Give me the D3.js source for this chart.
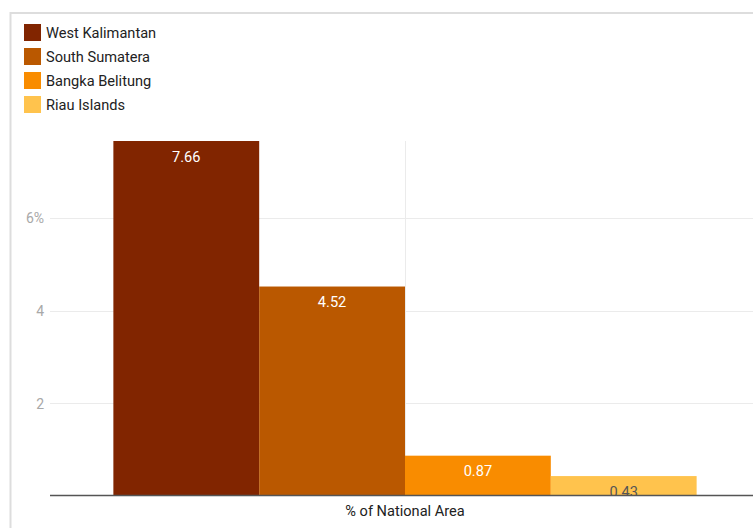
<!DOCTYPE html>
<html>
<head>
<meta charset="utf-8">
<script src="https://cdn.jsdelivr.net/npm/d3@7"></script>
<style>
  html, body { margin: 0; padding: 0; background: #fff; }
  svg { display: block; font-family: Roboto, "Noto Sans", sans-serif; }
</style>
</head>
<body>
<svg id="chart" width="753" height="528"></svg>
<script>
const categories = ["% of National Area"];
const seriesNames = ["West Kalimantan", "South Sumatera", "Bangka Belitung", "Riau Islands"];
const seriesValues = [7.66, 4.52, 0.87, 0.43];
const seriesColors = ["#812500", "#BA5800", "#F98C00", "#FFC34D"];
const labelColors = ["#ffffff", "#ffffff", "#ffffff", "#555555"];
const yTicks = [2, 4, 6];
const yTickLabels = ["2", "4", "6%"];

const svg = d3.select("#chart");
const W = 753, H = 528;

// frame
svg.append("line").attr("x1", 10.5).attr("x2", 10.5).attr("y1", 12).attr("y2", H)
  .attr("stroke", "#dddddd").attr("stroke-width", 2);
svg.append("line").attr("x1", 10).attr("x2", W).attr("y1", 13).attr("y2", 13)
  .attr("stroke", "#dddddd").attr("stroke-width", 2);

// legend
const legend = svg.append("g");
seriesNames.forEach((name, i) => {
  const g = legend.append("g").attr("transform", `translate(24,${24 + i * 24})`);
  g.append("rect").attr("width", 17).attr("height", 17).attr("fill", seriesColors[i]);
  g.append("text").attr("x", 22).attr("y", 14).attr("font-size", 14.6)
    .attr("fill", "#222").text(name);
});

const plotLeft = 50, plotRight = 760, plotTop = 141, plotBottom = 496;
const y = d3.scaleLinear().domain([0, 7.66]).range([plotBottom, plotTop]);
const x0 = d3.scaleBand().domain(categories).range([plotLeft, plotRight]).padding(0.098);
const x1 = d3.scaleBand().domain(seriesNames).range([0, x0.bandwidth()]).padding(0);

// gridlines
svg.append("g").selectAll("line").data(yTicks).join("line")
  .attr("x1", plotLeft).attr("x2", W).attr("y1", d => Math.round(y(d)) + 0.5).attr("y2", d => Math.round(y(d)) + 0.5)
  .attr("stroke", "#ebebeb");
// vertical grid at category center
categories.forEach(c => {
  const cx = Math.round(x0(c) + x0.bandwidth() / 2) + 0.5;
  svg.append("line").attr("x1", cx).attr("x2", cx).attr("y1", plotTop).attr("y2", plotBottom)
    .attr("stroke", "#ebebeb");
});

// y tick labels
svg.append("g").selectAll("text").data(yTicks).join("text")
  .attr("x", 44).attr("y", d => y(d) + 5.5).attr("text-anchor", "end")
  .attr("font-size", 14).attr("fill", "#a8a8a8")
  .text((d, i) => yTickLabels[i]);

// clip for labels
svg.append("clipPath").attr("id", "plotClip").append("rect")
  .attr("x", plotLeft).attr("y", 0).attr("width", W).attr("height", plotBottom - 1);

// bars
const gBars = svg.append("g").attr("transform", `translate(${x0(categories[0])},0)`);
gBars.selectAll("rect").data(seriesValues).join("rect")
  .attr("x", (d, i) => x1(seriesNames[i]))
  .attr("y", d => y(d))
  .attr("width", x1.bandwidth())
  .attr("height", d => plotBottom - y(d))
  .attr("fill", (d, i) => seriesColors[i]);

// labels
const gLab = svg.append("g").attr("clip-path", "url(#plotClip)")
  .append("g").attr("transform", `translate(${x0(categories[0])},0)`);
gLab.selectAll("text").data(seriesValues).join("text")
  .attr("x", (d, i) => x1(seriesNames[i]) + x1.bandwidth() / 2)
  .attr("y", d => y(d) + 20.5)
  .attr("text-anchor", "middle").attr("font-size", 14.6)
  .attr("fill", (d, i) => labelColors[i])
  .text(d => d.toFixed(2));

// baseline
svg.append("line").attr("x1", plotLeft).attr("x2", W).attr("y1", plotBottom - 0.5).attr("y2", plotBottom - 0.5)
  .attr("stroke", "#555").attr("stroke-width", 1.3);

// category label
svg.append("text").attr("x", x0(categories[0]) + x0.bandwidth() / 2).attr("y", 516)
  .attr("text-anchor", "middle").attr("font-size", 14.6).attr("fill", "#222")
  .text(categories[0]);
</script>
</body>
</html>
